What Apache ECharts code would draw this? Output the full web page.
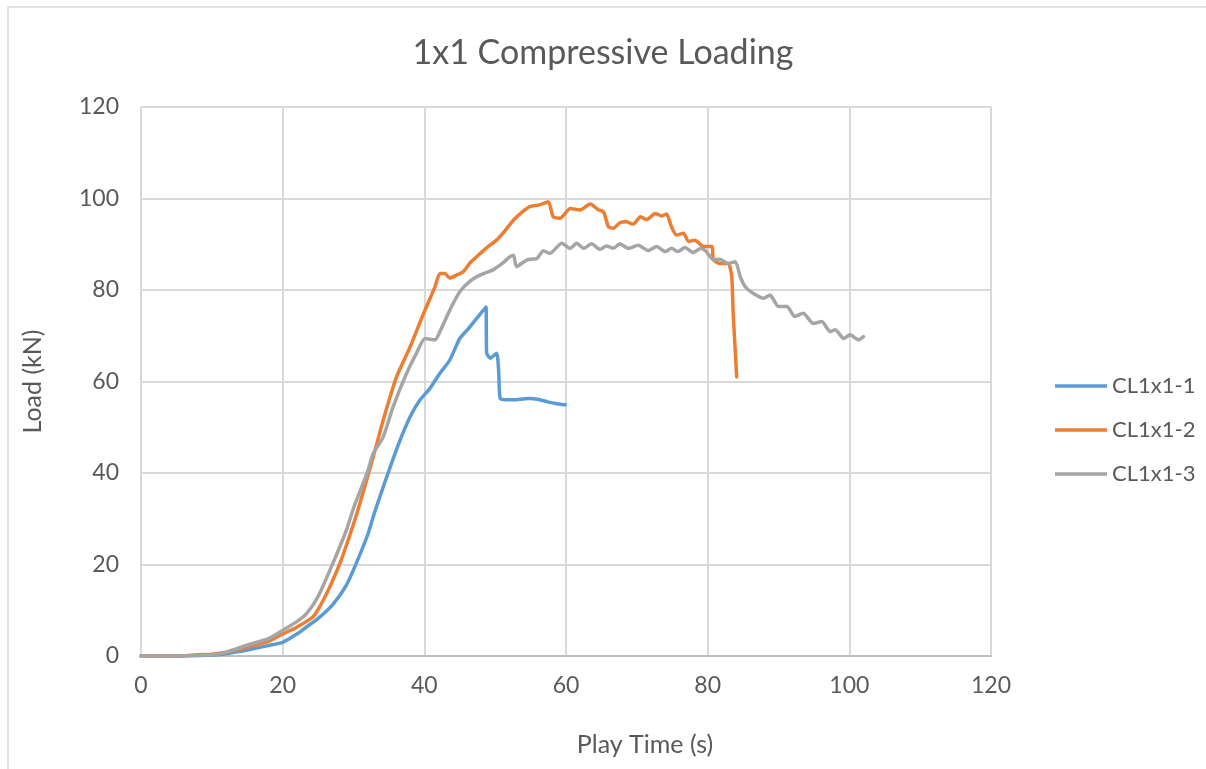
<!DOCTYPE html>
<html>
<head>
<meta charset="utf-8">
<title>1x1 Compressive Loading</title>
<script src="https://cdn.jsdelivr.net/npm/echarts@6/dist/echarts.min.js"></script>
<style>
    html, body { margin: 0; padding: 0; background: #fff; }
    #main { width: 1206px; height: 769px; }
</style>
</head>
<body>
<div id="main"></div>
<script>
// 系列名称
var seriesNames = ['CL1x1-1', 'CL1x1-2', 'CL1x1-3'];
var xTicks = [0, 20, 40, 60, 80, 100, 120];
var yTicks = [0, 20, 40, 60, 80, 100, 120];

// CL1x1-1 时间 / 载荷
var time1 = [0, 5, 10, 12, 15, 18, 20, 22, 23.4, 25,
    27.1, 29, 30.4, 32, 33.0, 34.7, 36.4, 38.0, 39.4, 40.8,
    42.2, 43.6, 45.0, 46.2, 47.4, 48.7, 48.8, 49.3, 50.2, 50.5,
    50.7, 51.5, 52.6, 54, 54.9, 56, 57.3, 58.5, 59.9];
var load1 = [0, 0, 0.2, 0.5, 1.3, 2.3, 3.0, 4.8, 6.4, 8.2,
    11.3, 15.5, 20.3, 26.5, 31.5, 39.2, 46.5, 52.3, 56.0, 58.5,
    61.8, 64.7, 69.4, 71.5, 73.8, 76.3, 66.2, 65.1, 66.2, 62.1,
    56.3, 56, 56, 56.2, 56.3, 56.1, 55.6, 55.2, 54.9];

// CL1x1-2
var time2 = [0, 5, 8, 10, 12, 15, 18, 20, 22, 24.3,
    26, 28.1, 29.5, 30.7, 32.8, 34.2, 36.1, 38.0, 39.9, 41.5,
    42.2, 42.9, 43.6, 44.6, 45.5, 46.5, 47.9, 49, 50.2, 51.4,
    52.6, 53.8, 54.9, 56.3, 57.5, 58.2, 59.2, 60.6, 62.0, 63.4,
    64.6, 65.3, 66.0, 66.7, 67.6, 68.5, 69.5, 70.5, 71.4, 72.6,
    73.5, 74.2, 74.9, 75.6, 76.6, 77.3, 78.2, 79.4, 80.6, 80.8,
    81.7, 82.9, 83.4, 83.6, 84.1];
var load2 = [0, 0, 0.3, 0.4, 0.8, 1.9, 3.2, 4.8, 6.3, 8.6,
    13, 20.3, 26.5, 32.3, 43.6, 51.6, 61.1, 67.6, 74.9, 80.7,
    83.6, 83.6, 82.6, 83.3, 84.0, 86, 88.0, 89.5, 90.9, 93,
    95.3, 97, 98.2, 98.6, 99.3, 96.0, 95.7, 97.8, 97.5, 98.8,
    97.5, 97.1, 93.8, 93.5, 94.7, 94.9, 94.4, 96.0, 95.4, 96.7,
    96.2, 96.6, 93.8, 92.0, 92.4, 90.6, 90.9, 89.5, 89.5, 86.6,
    85.8, 85.8, 82.9, 74.9, 61.0];

// CL1x1-3
var time3 = [0, 5, 10, 12, 15, 18, 20.1, 22, 23.4, 25,
    27.1, 29, 30.0, 31.9, 32.8, 34.2, 35.6, 37.5, 38.9, 40.1,
    41.5, 42.2, 43.6, 45.0, 46.5, 47.9, 49.7, 51, 52.1, 52.6,
    53.0, 54.5, 55.9, 56.8, 57.7, 59.4, 60.6, 61.5, 62.5, 63.6,
    64.8, 65.7, 66.7, 67.6, 68.8, 70.2, 71.6, 72.8, 74.0, 74.9,
    75.8, 76.8, 77.9, 79.1, 79.8, 80.8, 81.7, 82.9, 83.9, 84.6,
    85.3, 86.4, 87.9, 88.8, 90.0, 91.2, 92.3, 93.5, 94.9, 96.1,
    97.3, 98.0, 99.2, 100.1, 101.3, 102.0];
var load3 = [0, 0, 0.3, 0.8, 2.4, 3.8, 5.7, 7.5, 9.3, 13,
    20.3, 27.5, 32.3, 39.9, 44.3, 47.9, 54.5, 61.8, 66.2, 69.4,
    69.1, 70.9, 75.6, 79.6, 82, 83.3, 84.4, 85.8, 87.3, 87.6,
    85.1, 86.6, 86.9, 88.6, 88.0, 90.2, 89.1, 90.2, 89.1, 90.1,
    88.9, 89.6, 89.1, 90.1, 89.1, 89.8, 88.6, 89.5, 88.4, 89.1,
    88.4, 89.3, 88.2, 89.1, 88.4, 86.6, 86.7, 85.8, 86.2, 82.9,
    80.7, 79.3, 78.2, 78.9, 76.4, 76.4, 74.2, 74.9, 72.7, 73.1,
    70.9, 71.3, 69.4, 70.2, 69.1, 69.8];

var colors = ['#5B9BD5', '#ED7D31', '#A5A5A5'];
var textColor = '#595959';
var fontName = 'Lato';

function pairs(t, l) {
    var arr = [];
    for (var i = 0; i < t.length; i++) {
        arr.push([t[i], l[i]]);
    }
    return arr;
}

function makeSeries(name, t, l) {
    return {
        name: name,
        type: 'line',
        symbol: 'none',
        smooth: 0.2,
        data: pairs(t, l),
        lineStyle: { width: 3.5, cap: 'round', join: 'round' }
    };
}

var myChart = echarts.init(document.getElementById('main'));
var option = {
    color: colors,
    animation: false,
    title: {
        text: '1x1 Compressive Loading',
        left: 'center',
        top: 31,
        textStyle: { color: textColor, fontFamily: fontName, fontSize: 34, fontWeight: 'normal' }
    },
    graphic: [{
        type: 'rect',
        shape: { x: 8, y: 7, width: 1400, height: 1000 },
        style: { fill: 'none', stroke: '#D9D9D9', lineWidth: 1.5 },
        silent: true
    }],
    legend: {
        orient: 'vertical',
        left: 1050,
        top: 369,
        itemWidth: 52,
        itemHeight: 24,
        itemGap: 20,
        icon: 'path://M0,10.5 L52,10.5 L52,14 L0,14 Z',
        data: seriesNames,
        textStyle: { color: textColor, fontFamily: fontName, fontSize: 22, lineHeight: 24 }
    },
    grid: {
        left: 141,
        right: 215,
        top: 107,
        bottom: 113
    },
    xAxis: {
        type: 'value',
        min: xTicks[0],
        max: xTicks[xTicks.length - 1],
        interval: xTicks[1] - xTicks[0],
        name: 'Play Time (s)',
        nameLocation: 'middle',
        nameGap: 76,
        nameTextStyle: { color: textColor, fontFamily: fontName, fontSize: 25, padding: [0, 0, 0, 158] },
        axisLine: { lineStyle: { color: '#BFBFBF', width: 2 } },
        axisTick: { show: false },
        axisLabel: { color: textColor, fontFamily: fontName, fontSize: 23, margin: 18 },
        splitLine: { show: true, lineStyle: { color: '#D9D9D9', width: 2 } }
    },
    yAxis: {
        type: 'value',
        min: yTicks[0],
        max: yTicks[yTicks.length - 1],
        interval: yTicks[1] - yTicks[0],
        name: 'Load (kN)',
        nameLocation: 'middle',
        nameGap: 96,
        nameTextStyle: { color: textColor, fontFamily: fontName, fontSize: 25 },
        axisLine: { show: false },
        axisTick: { show: false },
        axisLabel: { color: textColor, fontFamily: fontName, fontSize: 23, margin: 22 },
        splitLine: { show: true, lineStyle: { color: '#D9D9D9', width: 2 } }
    },
    series: [
        makeSeries(seriesNames[0], time1, load1),
        makeSeries(seriesNames[1], time2, load2),
        makeSeries(seriesNames[2], time3, load3)
    ]
};
myChart.setOption(option);
</script>
</body>
</html>
